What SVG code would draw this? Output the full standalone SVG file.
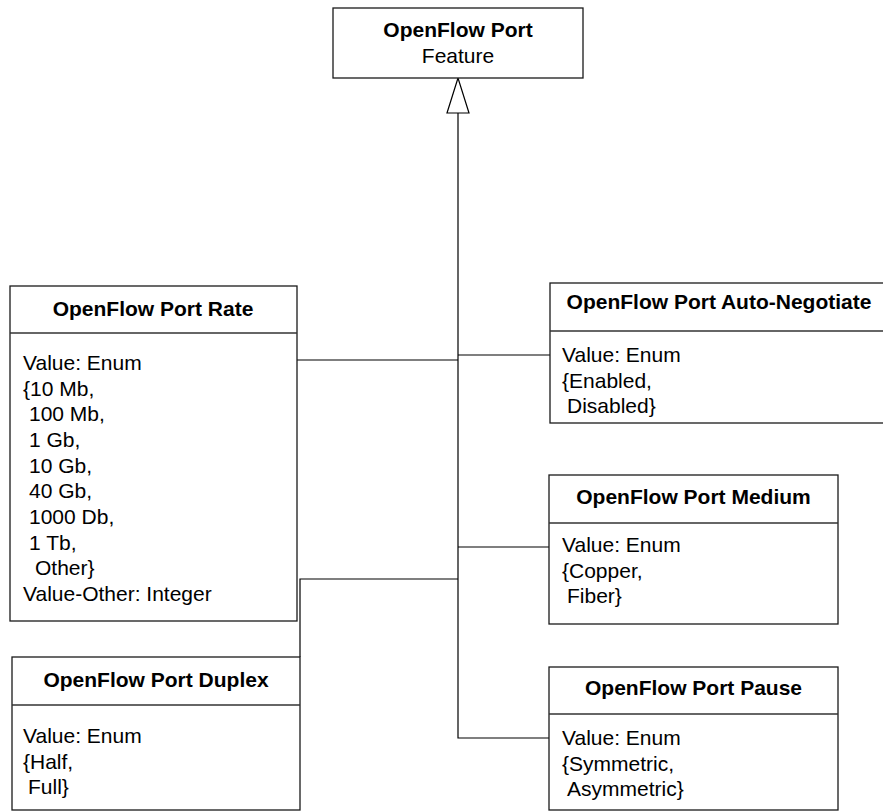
<svg xmlns="http://www.w3.org/2000/svg" width="883" height="812" viewBox="0 0 883 812">
<style>
.box{fill:#fff;stroke:#1a1a1a;stroke-width:1.3}
.div{stroke:#333;stroke-width:1.3}
.t{font-family:"Liberation Sans",Arial,sans-serif;font-size:21px;fill:#000}
.b{font-weight:bold;text-anchor:middle}
.c{fill:none;stroke:#000;stroke-width:1.2}
</style>
<rect width="883" height="812" fill="#fff"/>
<g id="connectors">
<path class="c" d="M458,113 V738 H549"/>
<path class="c" d="M297,360 H458"/>
<path class="c" d="M458,355 H550"/>
<path class="c" d="M458,547 H549"/>
<path class="c" d="M458,579 H300 V657"/>
<polygon points="458,78 447,113 469,113" fill="#fff" stroke="#000" stroke-width="1.2"/>
</g>
<g id="feature">
<rect class="box" x="333" y="8" width="250" height="70"/>
<text class="t b" x="458" y="37">OpenFlow Port</text>
<text class="t" x="458" y="63" text-anchor="middle">Feature</text>
</g>
<g id="rate">
<rect class="box" x="10" y="286" width="287" height="335"/>
<line class="div" x1="10" y1="333" x2="297" y2="333"/>
<text class="t b" x="153" y="316">OpenFlow Port Rate</text>
<text class="t" x="23" y="370">Value: Enum</text>
<text class="t" x="23" y="395.7">{10 Mb,</text>
<text class="t" x="29" y="421.3">100 Mb,</text>
<text class="t" x="29" y="447">1 Gb,</text>
<text class="t" x="29" y="472.7">10 Gb,</text>
<text class="t" x="29" y="498.3">40 Gb,</text>
<text class="t" x="29" y="524">1000 Db,</text>
<text class="t" x="29" y="549.7">1 Tb,</text>
<text class="t" x="35" y="575.3">Other}</text>
<text class="t" x="23" y="601">Value-Other: Integer</text>
</g>
<g id="duplex">
<rect class="box" x="12" y="657" width="288" height="153"/>
<line class="div" x1="12" y1="705" x2="300" y2="705"/>
<text class="t b" x="156" y="687">OpenFlow Port Duplex</text>
<text class="t" x="23" y="743">Value: Enum</text>
<text class="t" x="23" y="768.7">{Half,</text>
<text class="t" x="28" y="794.3">Full}</text>
</g>
<g id="autoneg">
<rect class="box" x="550" y="283" width="345" height="140"/>
<line class="div" x1="550" y1="331" x2="895" y2="331"/>
<text class="t b" x="719" y="309">OpenFlow Port Auto-Negotiate</text>
<text class="t" x="562" y="362">Value: Enum</text>
<text class="t" x="562" y="387.7">{Enabled,</text>
<text class="t" x="567" y="413.3">Disabled}</text>
</g>
<g id="medium">
<rect class="box" x="549" y="475" width="289" height="149"/>
<line class="div" x1="549" y1="523" x2="838" y2="523"/>
<text class="t b" x="693.5" y="504">OpenFlow Port Medium</text>
<text class="t" x="562" y="552">Value: Enum</text>
<text class="t" x="562" y="577.7">{Copper,</text>
<text class="t" x="567" y="603.3">Fiber}</text>
</g>
<g id="pause">
<rect class="box" x="549" y="667" width="289" height="143"/>
<line class="div" x1="549" y1="714" x2="838" y2="714"/>
<text class="t b" x="693.5" y="695">OpenFlow Port Pause</text>
<text class="t" x="562" y="745">Value: Enum</text>
<text class="t" x="562" y="770.7">{Symmetric,</text>
<text class="t" x="567" y="796.3">Asymmetric}</text>
</g>
</svg>
